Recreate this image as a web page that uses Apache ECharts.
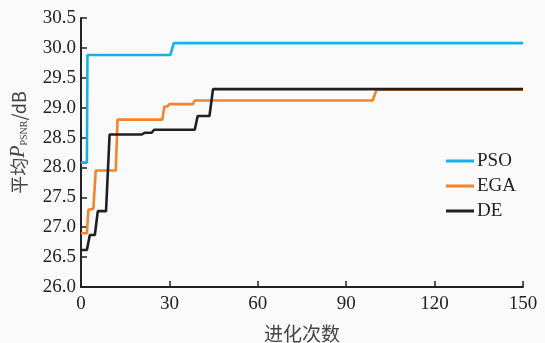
<!DOCTYPE html>
<html>
<head>
<meta charset="utf-8">
<script src="https://cdn.jsdelivr.net/npm/echarts@6/dist/echarts.min.js"></script>
<style>
html,body{margin:0;padding:0;background:#fafafa;}
#chart{width:545px;height:343px;}
</style>
</head>
<body>
<div id="chart"></div>
<script>
// Data: [iteration, average PSNR (dB)]
var psoData = [[0,28.08],[2,28.08],[2.2,29.88],[30.3,29.88],[31.5,30.08],[150,30.08]];
var egaData = [[0,26.90],[2,26.90],[2.5,27.29],[4.2,27.31],[5,27.95],[11.8,27.95],[12.4,28.80],[27.6,28.80],[28.3,29.02],[29.4,29.02],[29.9,29.06],[38,29.06],[38.6,29.12],[99,29.12],[100.3,29.30],[150,29.30]];
var deData = [[0,26.62],[2,26.62],[3,26.87],[4.7,26.87],[5.7,27.27],[8.5,27.27],[9.7,28.55],[20.5,28.55],[21.6,28.58],[24,28.58],[24.8,28.63],[38.6,28.63],[39.6,28.86],[43.6,28.86],[44.8,29.31],[150,29.31]];
var seriesNames = ['PSO','EGA','DE'];
var xTicks = [0,30,60,90,120,150];
var yTicks = [26.0,26.5,27.0,27.5,28.0,28.5,29.0,29.5,30.0,30.5];

var colors = ['#14b1ec','#f5832a','#231f20'];
var serif = 'Liberation Serif';
var chart = echarts.init(document.getElementById('chart'));
chart.setOption({
  backgroundColor: '#fafafa',
  animation: false,
  grid: {left: 81, right: 22, top: 18, bottom: 56, containLabel: false, outerBoundsMode: 'none'},
  legend: {
    orient: 'vertical',
    left: 441, top: 146,
    itemWidth: 28, itemHeight: 3, itemGap: 5,
    icon: 'rect',
    textStyle: {fontFamily: serif, fontSize: 19, color: '#222', padding: [0,0,0,-2], lineHeight: 20},
    data: seriesNames
  },
  xAxis: {
    type: 'value', min: xTicks[0], max: xTicks[xTicks.length-1], interval: 30,
    name: '进化次数', nameLocation: 'middle', nameGap: 37,
    nameTextStyle: {fontFamily: 'Noto Sans CJK SC', fontSize: 19, color: '#444'},
    axisLine: {lineStyle: {color: '#222', width: 2}},
    axisTick: {inside: true, length: 6, lineStyle: {color: '#222', width: 1.5}},
    axisLabel: {fontFamily: serif, fontSize: 19, color: '#222', margin: 8},
    splitLine: {show: false}
  },
  yAxis: {
    type: 'value', min: yTicks[0], max: yTicks[yTicks.length-1], interval: 0.5,
    name: '{a|平均}{p|P}{s|PSNR}{a|/dB}', nameLocation: 'middle', nameGap: 52, nameRotate: 90,
    nameTextStyle: {
      padding: [0,0,0,20],
      rich: {
        a: {fontFamily: 'Noto Sans CJK SC', fontSize: 18, color: '#444'},
        p: {fontFamily: serif, fontStyle: 'italic', fontSize: 20, color: '#444'},
        s: {fontFamily: serif, fontSize: 10, color: '#444', verticalAlign: 'bottom'}
      }
    },
    axisLine: {show: true, lineStyle: {color: '#222', width: 2}},
    axisTick: {show: true, inside: true, length: 6, lineStyle: {color: '#222', width: 1.5}},
    axisLabel: {fontFamily: serif, fontSize: 19, color: '#222', margin: 5, formatter: function(v){return v.toFixed(1);}},
    splitLine: {show: false}
  },
  series: [
    {name: seriesNames[0], type: 'line', data: psoData, symbol: 'none', lineStyle: {color: colors[0], width: 2.6}, itemStyle: {color: colors[0]}},
    {name: seriesNames[1], type: 'line', data: egaData, symbol: 'none', lineStyle: {color: colors[1], width: 2.6}, itemStyle: {color: colors[1]}},
    {name: seriesNames[2], type: 'line', data: deData, symbol: 'none', lineStyle: {color: colors[2], width: 2.6}, itemStyle: {color: colors[2]}}
  ]
});
</script>
</body>
</html>
